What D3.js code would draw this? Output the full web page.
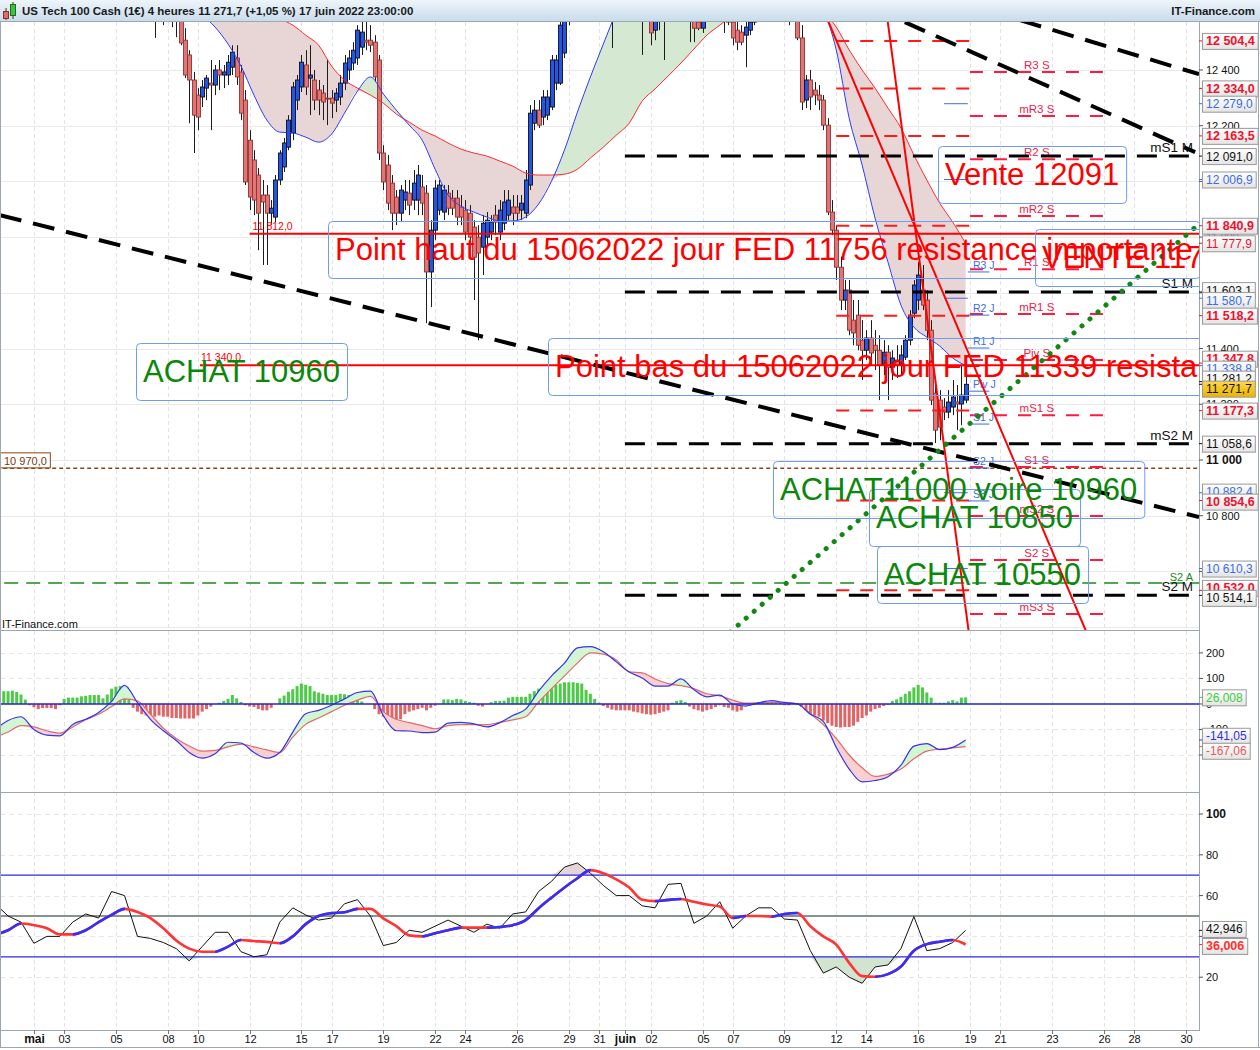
<!DOCTYPE html>
<html lang="fr">
<head>
<meta charset="utf-8">
<title>US Tech 100 Cash - 4 heures</title>
<script src="https://d3js.org/d3.v7.min.js"></script>
<style>
  body { margin: 0; background: #fff; }
  svg { display: block; font-family: "Liberation Sans", Arial, sans-serif; }
</style>
</head>
<body>
<script>
// ---- data: 4h candles, first bar "2022-05-06 11:00", one value per bar
var candleStart = "2022-05-06 11:00";
var opens = [12633,12651,12633,12608,12629,12615,12601,12579,12507,12454,12364,12310,12303,12335,12353,12346,12400,12382,12382,12410,
  12443,12393,12292,12148,12077,12023,11951,11951,11886,11872,12005,12052,12123,12174,12292,12339,12418,12371,12364,12328,
  12317,12299,12299,12292,12303,12353,12400,12425,12443,12482,12507,12507,12500,12436,12102,12059,11994,11944,11886,11933,
  11958,11933,11933,11980,11958,11675,11825,11897,11890,11958,11940,11940,11908,11897,11886,11836,11800,11764,11800,11818,
  11879,11818,11850,11879,11908,11908,11897,11886,11987,12209,12256,12231,12238,12267,12353,12353,12461,12579,12651,12705,
  12759,12795,12831,12848,12866,12831,12795,12759,12723,12759,12795,12813,12795,12759,12705,12687,12669,12543,12579,12651,
  12669,12705,12741,12759,12723,12687,12651,12572,12550,12633,12687,12723,12705,12669,12651,12572,12543,12536,12525,12543,
  12572,12633,12669,12705,12723,12741,12759,12723,12687,12669,12615,12515,12292,12364,12328,12310,12292,12202,11890,11825,
  11692,11574,11610,11502,11520,11430,11394,11438,11412,11394,11341,11387,11333,11359,11341,11369,11430,11527,11574,11610,
  11574,11466,11240,11215,11190,11172,11190,11208,11201,11215];
var highs = [12705,12687,12680,12669,12680,12669,12644,12597,12550,12471,12393,12335,12364,12382,12436,12418,12436,12418,12454,12489,
  12489,12418,12328,12184,12112,12048,12005,11987,11933,12023,12112,12156,12238,12357,12382,12454,12471,12489,12400,12364,
  12346,12436,12328,12335,12382,12454,12471,12500,12561,12579,12572,12561,12525,12454,12130,12095,12023,11969,11987,12005,
  12005,12041,12059,12023,11987,11861,12005,12005,11987,11987,11969,11969,11951,11933,11915,11861,11843,11879,11890,11879,
  11915,11933,11969,11969,11951,11951,11951,12041,12274,12292,12292,12328,12328,12454,12454,12579,12615,12669,12723,12777,
  12831,12866,12902,12902,12938,12902,12848,12813,12795,12831,12866,12866,12848,12813,12759,12741,12723,12687,12669,12705,
  12741,12777,12795,12813,12777,12741,12705,12615,12651,12705,12759,12777,12759,12723,12705,12597,12579,12561,12579,12597,
  12651,12705,12741,12759,12777,12795,12813,12777,12741,12723,12669,12561,12382,12400,12357,12346,12310,12227,11933,11843,
  11730,11646,11646,11574,11574,11502,11466,11502,11466,11448,11430,11412,11394,11412,11412,11448,11538,11646,11710,11700,
  11610,11502,11269,11251,11222,11251,11287,11269,11341,11341];
var lows = [12597,12515,12579,12561,12579,12554,12518,12489,12371,12209,12102,12184,12267,12292,12184,12310,12328,12335,12346,12382,
  12346,12220,11987,11897,11879,11753,11700,11700,11843,11854,11987,12034,12112,12148,12256,12321,12310,12238,12256,12238,
  12220,12202,12227,12249,12274,12328,12364,12400,12418,12454,12471,12464,12357,12077,11969,11897,11825,11843,11854,11897,
  11879,11897,11879,11879,11491,11549,11789,11879,11861,11879,11879,11843,11843,11789,11771,11574,11430,11664,11771,11789,
  11807,11789,11825,11861,11843,11861,11861,11868,11969,12184,12192,12202,12220,12256,12328,12346,12443,12561,12615,12669,
  12723,12759,12795,12813,12795,12759,12723,12479,12615,12687,12723,12741,12705,12651,12454,12597,12489,12507,12543,12436,
  12615,12669,12687,12687,12633,12500,12500,12543,12533,12597,12651,12669,12633,12533,12561,12489,12471,12489,12410,12525,
  12561,12615,12633,12669,12669,12687,12687,12651,12561,12597,12507,12256,12263,12256,12274,12256,12184,11879,11807,11646,
  11538,11538,11448,11412,11394,11287,11359,11341,11323,11215,11305,11215,11287,11294,11305,11359,11412,11509,11538,11538,
  11430,11197,11061,11071,11143,11150,11161,11107,11125,11204];
var closes = [12651,12633,12608,12629,12615,12601,12579,12497,12382,12364,12238,12231,12339,12371,12346,12400,12382,12393,12428,12464,
  12375,12245,11998,11944,11933,11886,11926,11886,11904,12005,12102,12138,12220,12339,12364,12428,12339,12382,12292,12292,
  12285,12296,12281,12317,12353,12425,12443,12471,12543,12536,12500,12489,12375,12102,11998,11922,11886,11886,11969,11962,
  11915,11994,12023,11922,11675,11825,11976,11987,11969,11904,11904,11872,11872,11818,11800,11728,11743,11850,11861,11854,
  11854,11897,11926,11933,11886,11886,11922,12005,12245,12256,12202,12303,12303,12436,12436,12561,12597,12651,12705,12759,
  12795,12831,12848,12866,12831,12795,12759,12723,12759,12795,12813,12795,12759,12705,12687,12669,12533,12633,12651,12669,
  12705,12741,12759,12723,12687,12651,12550,12550,12633,12687,12723,12705,12669,12651,12572,12515,12500,12500,12554,12572,
  12633,12669,12705,12723,12741,12759,12723,12687,12669,12651,12515,12285,12364,12303,12310,12292,12202,11890,11825,11692,
  11574,11610,11466,11456,11412,11394,11438,11384,11394,11341,11387,11333,11366,11341,11377,11430,11520,11628,11664,11556,
  11466,11215,11107,11118,11172,11208,11226,11201,11233,11271.7];

// ---- indicators sampled every 3 bars from "2022-04-28 15:00"
var indStart = "2022-04-28 15:00";
var indStep = 3;
var maFast = [13082,13100,13118,13100,13064,13028,12992,12956,12920,12902,12884,12831,12777,12723,12669,12633,12597,12554,12493,12414,
  12310,12220,12177,12174,12159,12141,12170,12245,12324,12375,12314,12256,12202,12148,12044,11951,11911,11890,11872,11858,
  11858,11872,11919,12001,12113,12249,12375,12493,12608,12705,12777,12831,12859,12874,12866,12848,12831,12813,12802,12795,
  12777,12759,12723,12669,12615,12472,12227,12059,11868,11710,11556,11477,11441,11409,11366,11338.8];
var maSlow = [13190,13190,13182,13172,13154,13136,13111,13082,13046,13010,12974,12931,12888,12848,12813,12777,12741,12705,12669,12640,
  12615,12597,12583,12561,12525,12489,12414,12364,12335,12310,12281,12242,12213,12184,12163,12138,12116,12102,12091,12073,
  12055,12030,12023,12023,12026,12044,12084,12123,12166,12209,12288,12332,12378,12425,12475,12525,12561,12597,12622,12640,
  12651,12651,12644,12629,12608,12554,12472,12400,12335,12263,12192,12095,12005,11922,11854,11777.9];
var macd = [-100,-65,-50,-100,-122,-125,-80,-60,-33,10,73,5,-60,-105,-143,-190,-212,-195,-150,-153,
  -190,-212,-190,-110,-38,-25,-5,20,45,50,-45,-105,-106,-112,-110,-75,-72,-78,-90,-73,
  -45,-20,50,110,160,220,225,205,165,125,102,70,70,98,56,28,35,0,-8,4,
  13,5,0,-40,-68,-170,-255,-305,-300,-285,-240,-165,-155,-179,-170,-141.05];
var signal = [-130,-110,-85,-90,-105,-114,-90,-62,-40,-10,20,12,-40,-95,-135,-165,-185,-182,-168,-157,
  -168,-180,-190,-130,-80,-55,-30,-5,15,30,-30,-60,-73,-85,-97,-85,-81,-81,-81,-72,
  -62,-50,8,60,110,160,200,195,172,126,122,98,80,72,60,40,32,15,3,4,
  6,6,0,-38,-81,-135,-200,-250,-284,-275,-255,-215,-185,-177,-172,-167.06];
var rsi = [56,50,47,36.6,40,40,47,51,49,62,60,40,39,37,34,28,35,42,42,32.5,
  30,31,47,54,50.5,48,49,56,58,50,35.5,37,43,42,45,48,45,42,46,44,
  51,52,62,67,74,76,71,65,60,60,55,54,65.5,66,46.4,50,57,44,50,54,
  54,48.5,48,33,22,25,20,17,25,26,34,49.7,33,34,37,42.946];
var rsiMa = [40.7,43,46.3,45.5,44,41,41,43,47,50.5,53.5,52,49,44,38,34,32.5,32.5,35,38.2,
  37.7,37.3,36.6,40,46,50,51.4,51.8,53.5,53.5,48.8,45,40.5,40,41.5,43,44.3,44.3,44.3,44.6,
  45.5,48,53.8,59,64,68.5,72.5,71,68,64,58,57.3,57.9,58.3,57,55.6,54.6,49,50,50,
  49.7,51,51.5,45,40,36,27,20.5,20.2,21.5,25.2,33,36.2,37.4,38.2,36.006];

// ---- MACD histogram, one value per bar from "2022-04-28 19:00"
var histStart = "2022-04-28 19:00";
var hist = [48,50,50,52,47,37,17,-5,-13,-20,-16,-16,-16,-20,-5,
  20,25,25,25,30,32,35,35,35,22,37,60,68,70,68,35,
  -15,-30,-40,-45,-50,-50,-45,-50,-50,-55,-55,-57,-57,-57,-57,-45,-30,-20,-10,
  0,5,12,20,35,22,8,-5,-10,-12,-20,-25,-25,-15,0,
  22,33,48,58,70,80,75,70,50,45,40,35,35,35,40,38,35,30,20,10,0,0,
  -20,-40,-50,-70,-70,-65,-60,-40,-30,-25,-20,-15,-25,-15,-7,0,
  18,18,15,20,18,12,8,5,-7,-10,0,
  7,12,12,13,25,28,28,28,28,40,50,60,65,65,70,75,80,85,85,85,82,80,55,40,20,5,
  -8,-15,-22,-25,-25,-25,-25,-30,-33,-37,-40,-42,-40,-35,-30,-25,
  5,12,15,8,-10,-20,-25,-30,-25,-20,-12,-5,-12,-15,-25,-30,-25,-10,-5,
  5,8,10,10,8,5,5,-5,-5,0,2,
  -10,-25,-40,-45,-50,-65,-75,-85,-90,-92,-90,-90,-85,-70,-55,-45,-30,-20,-15,-8,-3,
  12,18,28,40,50,65,75,65,45,25,5,5,5,10,15,10,25,26.008];

// ---- levels
var tickDays = ["2022-05-01","2022-05-03","2022-05-05","2022-05-08","2022-05-10","2022-05-12","2022-05-15","2022-05-17",
  "2022-05-19","2022-05-22","2022-05-24","2022-05-26","2022-05-29","2022-05-31","2022-06-01","2022-06-02","2022-06-05",
  "2022-06-07","2022-06-09","2022-06-12","2022-06-14","2022-06-16","2022-06-19","2022-06-21","2022-06-23","2022-06-26",
  "2022-06-28","2022-06-30"];
var monthNames = ["janv","févr","mars","avr","mai","juin","juil"];
var weekNowLevels = [12504.4, 12334.0, 12163.5, 11840.9, 11518.2, 11177.3, 10854.6, 10532.0];
var weekNextNames = ["R3 S","mR3 S","R2 S","mR2 S","R1 S","mR1 S","Piv S","mS1 S","S1 S","mS2 S","S2 S","mS3 S"];
var weekNextLevels = [12393, 12235, 12080, 11876, 11685, 11524, 11359, 11161, 10975, 10799, 10641, 10447];
var dayNames = ["R3 J","R2 J","R1 J","Piv J","S1 J","S2 J","S3 J"];
var dayLevels = [11675, 11520, 11402, 11247, 11129, 10971, 10853];
var dayNowLevels = [12279.0, 12006.9, 11580.7, 11338.8, 10882.4, 10610.3];
var monthNames2 = ["mS1 M","S1 M","mS2 M","S2 M"];
var monthLevels = [12091.0, 11603.1, 11058.6, 10514.1];
var yearLevel = 10558, yearName = "S2 A";
var supportLevel = 10970.0;
var fedHigh = 11812.0, fedLow = 11340.0;
var priceTicks = [10600, 10800, 11000, 11200, 11400, 11600, 11800, 12000, 12200, 12400];
// trend lines: [bar index, price, bar index, price]
var blackTrends = [[4.13, 11879, 282.1, 10795], [240.6, 12579, 282.1, 12385], [213.9, 12572, 281.2, 12105]];
var redTrends = [[208, 12800, 229, 10350], [190, 12800, 256, 10382]];
var greenTrend = [173.4, 10382, 282.1, 11847];

var axisBoxes = [
  {v: 12504.4, c: "#f0102c", b: 1}, {v: 12334.0, c: "#f0102c", b: 1}, {v: 12279.0, c: "#3a6ce8"},
  {v: 12163.5, c: "#f0102c", b: 1}, {v: 12091.0, c: "#111"}, {v: 12006.9, c: "#3a6ce8"},
  {v: 11840.9, c: "#f0102c", b: 1}, {v: 11777.9, c: "#f0102c"}, {v: 11603.1, c: "#111"},
  {v: 11580.7, c: "#3a6ce8"}, {v: 11518.2, c: "#f0102c", b: 1}, {v: 11347.8, c: "#f0102c", b: 1},
  {v: 11338.8, c: "#3a6ce8"}, {v: 11281.2, c: "#111"}, {v: 11271.7, c: "#111", gold: 1},
  {v: 11177.3, c: "#f0102c", b: 1}, {v: 11058.6, c: "#111"}, {v: 10882.4, c: "#3a6ce8"},
  {v: 10854.6, c: "#f0102c", b: 1}, {v: 10610.3, c: "#3a6ce8"}, {v: 10532.0, c: "#f0102c", b: 1},
  {v: 10514.1, c: "#111"}
];

var notes = [
  {t: "Vente 12091", c: "#f00", x: 938, y: 146},
  {t: "Point haut du 15062022 jour FED 11756 resistance importante", c: "#f00", x: 328, y: 221},
  {t: "VENTE 11756", c: "#f00", x: 1035, y: 229},
  {t: "ACHAT 10960", c: "#0b870b", x: 136, y: 343},
  {t: "Point bas du 15062022 jour FED 11339 resistance", c: "#f00", x: 548, y: 338},
  {t: "ACHAT11000 voire 10960", c: "#0b870b", x: 773, y: 461},
  {t: "ACHAT 10850", c: "#0b870b", x: 869, y: 489},
  {t: "ACHAT 10550", c: "#0b870b", x: 877, y: 546}
];

// ---- trading calendar of 4h bars (Sunday one bar, Mon-Fri six)
var bars = [];
var day = new Date(2022, 3, 28);
while (day < new Date(2022, 6, 3)) {
  var wd = day.getDay();
  var hs = wd === 6 ? [] : (wd === 0 ? [23] : [3, 7, 11, 15, 19, 23]);
  hs.forEach(function (h) { bars.push(new Date(day.getFullYear(), day.getMonth(), day.getDate(), h)); });
  day = new Date(day.getFullYear(), day.getMonth(), day.getDate() + 1);
}
function barIndex(s) {
  var p = s.split(/[- :]/);
  var t = new Date(+p[0], +p[1] - 1, +p[2], +(p[3] || 0)).getTime();
  for (var i = 0; i < bars.length; i++) if (bars[i].getTime() === t) return i;
  return -1;
}
function dayIndex(s) {
  var p = s.split("-");
  for (var i = 0; i < bars.length; i++) {
    var b = bars[i];
    if (b.getFullYear() === +p[0] && b.getMonth() === +p[1] - 1 && b.getDate() === +p[2]) return i;
  }
  return -1;
}
function fmt(v, dec) {
  var s = Math.abs(v).toFixed(dec).split(".");
  var n = s[0].replace(/\B(?=(\d{3})+(?!\d))/g, " ");
  return (v < 0 ? "-" : "") + n + (dec ? "," + s[1] : "");
}

var W = 1260, H = 1050, R = 1199;
var plotTop = 22, mainB = 630, macdB = 792, rsiB = 1030;
var x = d3.scaleLinear().domain([4.13, 282.1]).range([0, R]);
var yM = d3.scaleLinear().domain([10389.7, 12572.3]).range([mainB, plotTop]);
var yD = d3.scaleLinear().domain([-341, 282]).range([macdB - 1, mainB + 2]);
var yR = d3.scaleLinear().domain([-5.9, 110.3]).range([rsiB, macdB + 1]);

var svg = d3.select("body").append("svg").attr("width", W).attr("height", H);
var defs = svg.append("defs");
function clip(id, y0, y1) {
  defs.append("clipPath").attr("id", id).append("rect").attr("x", 0).attr("y", y0).attr("width", R).attr("height", y1 - y0);
}
clip("cMain", plotTop, mainB); clip("cMacd", mainB + 1, macdB); clip("cRsi", macdB + 1, rsiB);
var hg = defs.append("linearGradient").attr("id", "hdr").attr("x1", 0).attr("x2", 0).attr("y1", 0).attr("y2", 1);
hg.append("stop").attr("offset", 0).attr("stop-color", "#eef5fb");
hg.append("stop").attr("offset", 1).attr("stop-color", "#c9dceb");
var bg = defs.append("linearGradient").attr("id", "box").attr("x1", 0).attr("x2", 0).attr("y1", 0).attr("y2", 1);
bg.append("stop").attr("offset", 0).attr("stop-color", "#ffffff");
bg.append("stop").attr("offset", 1).attr("stop-color", "#e4e4e4");
var gg = defs.append("linearGradient").attr("id", "gold").attr("x1", 0).attr("x2", 0).attr("y1", 0).attr("y2", 1);
gg.append("stop").attr("offset", 0).attr("stop-color", "#ffd84a");
gg.append("stop").attr("offset", 1).attr("stop-color", "#e8b400");

svg.append("rect").attr("width", W).attr("height", H).attr("fill", "#fff");

// header
svg.append("rect").attr("width", W).attr("height", 21).attr("fill", "url(#hdr)");
svg.append("line").attr("x1", 0).attr("x2", W).attr("y1", 21.5).attr("y2", 21.5).attr("stroke", "#9aa8b4");
svg.append("line").attr("x1", 6).attr("x2", 6).attr("y1", 8).attr("y2", 20).attr("stroke", "#333");
svg.append("rect").attr("x", 3.5).attr("y", 11.5).attr("width", 5).attr("height", 7).attr("fill", "#e36a6a").attr("stroke", "#8a2e2e");
svg.append("line").attr("x1", 13).attr("x2", 13).attr("y1", 2).attr("y2", 19).attr("stroke", "#333");
svg.append("rect").attr("x", 10.5).attr("y", 4.5).attr("width", 5).attr("height", 11).attr("fill", "#3cc43c").attr("stroke", "#1d6d1d");
svg.append("text").attr("x", 22).attr("y", 15).attr("font-size", 11.5).attr("font-weight", "bold").attr("fill", "#1a1a1a")
  .text("US Tech 100 Cash (1€) 4 heures 11 271,7 (+1,05 %) 17 juin 2022 23:00:00");
svg.append("text").attr("x", 1255).attr("y", 15).attr("text-anchor", "end").attr("font-size", 11.5).attr("font-weight", "bold")
  .attr("fill", "#1a1a1a").text("IT-Finance.com");

// grid
var grid = svg.append("g");
tickDays.forEach(function (s) {
  var xi = Math.round(x(dayIndex(s))) + 0.5;
  grid.append("line").attr("x1", xi).attr("x2", xi).attr("y1", plotTop).attr("y2", rsiB)
    .attr("stroke", "#e3e3e3").attr("stroke-dasharray", "4,3");
});
d3.range(10400, 12600, 200).forEach(function (v) {
  grid.append("line").attr("x1", 0).attr("x2", R).attr("y1", Math.round(yM(v)) + 0.5).attr("y2", Math.round(yM(v)) + 0.5)
    .attr("stroke", "#e9e9e9");
});
[200, 100, -100, -200].forEach(function (v) {
  grid.append("line").attr("x1", 0).attr("x2", R).attr("y1", Math.round(yD(v)) + 0.5).attr("y2", Math.round(yD(v)) + 0.5)
    .attr("stroke", "#e6e6e6").attr("stroke-dasharray", "5,4");
});
[100, 80, 60, 40, 20].forEach(function (v) {
  grid.append("line").attr("x1", 0).attr("x2", R).attr("y1", Math.round(yR(v)) + 0.5).attr("y2", Math.round(yR(v)) + 0.5)
    .attr("stroke", "#e6e6e6").attr("stroke-dasharray", "5,4");
});

// ---- main panel
var c0 = barIndex(candleStart), i0 = barIndex(indStart), h0 = barIndex(histStart);
var main = svg.append("g").attr("clip-path", "url(#cMain)");
var ma = maFast.map(function (v, j) { return {i: i0 + indStep * j, f: v, s: maSlow[j]}; });
main.append("path").datum(ma).attr("fill", "#d4e8d2")
  .attr("d", d3.area().curve(d3.curveMonotoneX).x(function (d) { return x(d.i); })
    .y0(function (d) { return yM(d.s); }).y1(function (d) { return yM(Math.max(d.f, d.s)); }));
main.append("path").datum(ma).attr("fill", "#e8d6d6")
  .attr("d", d3.area().curve(d3.curveMonotoneX).x(function (d) { return x(d.i); })
    .y0(function (d) { return yM(d.s); }).y1(function (d) { return yM(Math.min(d.f, d.s)); }));

var candles = closes.map(function (c, k) { return {i: c0 + k, o: opens[k], h: highs[k], l: lows[k], c: c}; });
var cg = main.append("g");
cg.selectAll("line").data(candles).enter().append("line")
  .attr("x1", function (d) { return Math.round(x(d.i)) + 0.5; }).attr("x2", function (d) { return Math.round(x(d.i)) + 0.5; })
  .attr("y1", function (d) { return yM(d.h); }).attr("y2", function (d) { return yM(d.l); })
  .attr("stroke", "#1c1c1c").attr("stroke-width", 1);
cg.selectAll("rect").data(candles).enter().append("rect")
  .attr("x", function (d) { return Math.round(x(d.i)) - 1.5; }).attr("width", 4)
  .attr("y", function (d) { return yM(Math.max(d.o, d.c)); })
  .attr("height", function (d) { return Math.max(1, Math.abs(yM(d.o) - yM(d.c))); })
  .attr("fill", function (d) { return d.c >= d.o ? "#2356e6" : "#e27474"; })
  .attr("stroke", function (d) { return d.c >= d.o ? "#101010" : "#8c3434"; }).attr("stroke-width", 0.9);

var lineF = d3.line().curve(d3.curveMonotoneX).x(function (d) { return x(d.i); });
main.append("path").datum(ma).attr("fill", "none").attr("stroke", "#ff2a2a").attr("stroke-width", 1)
  .attr("d", lineF.y(function (d) { return yM(d.s); }));
main.append("path").datum(ma).attr("fill", "none").attr("stroke", "#2a3cff").attr("stroke-width", 1)
  .attr("d", lineF.y(function (d) { return yM(d.f); }));

function hline(g, v, i1, i2, color, w, dash) {
  var yy = yM(v);
  g.append("line").attr("x1", x(i1)).attr("x2", x(i2)).attr("y1", yy).attr("y2", yy)
    .attr("stroke", color).attr("stroke-width", w).attr("stroke-dasharray", dash || null);
}
var lv = main.append("g");
hline(lv, supportLevel, 0, 290, "#8b4513", 1.5, "4,3");
hline(lv, yearLevel, 0, 290, "#1a8a1a", 1.5, "14,8");
var wk0 = dayIndex("2022-06-12"), wk1 = dayIndex("2022-06-19"), wk2 = dayIndex("2022-06-26");
weekNowLevels.forEach(function (v) { hline(lv, v, wk0, wk1, "#ff1a1a", 2, "13,11"); });
weekNextLevels.forEach(function (v, k) {
  hline(lv, v, wk1, wk2, "#ff1a40", 2, "13,11");
  lv.append("text").attr("x", x((wk1 + wk2) / 2)).attr("y", yM(v) - 3).attr("text-anchor", "middle")
    .attr("font-size", 11.5).attr("fill", "#ee1a48").text(weekNextNames[k]);
});
var dNow = dayIndex("2022-06-17");
dayNowLevels.forEach(function (v) { hline(lv, v, dNow, dNow + 5.5, "#3a6ce8", 1); });
dayLevels.forEach(function (v, k) {
  hline(lv, v, wk1 - 0.5, wk1 + 4.5, "#3a6ce8", 1);
  lv.append("text").attr("x", x(wk1) + 3).attr("y", yM(v) - 3).attr("font-size", 10.5).attr("fill", "#3a6ce8").text(dayNames[k]);
});
var mo0 = dayIndex("2022-06-01");
monthLevels.forEach(function (v, k) {
  hline(lv, v, mo0, 290, "#000", 3, "20,12");
  lv.append("text").attr("x", R - 6).attr("y", yM(v) - 4).attr("text-anchor", "end").attr("font-size", 13.5)
    .attr("fill", "#111").text(monthNames2[k]);
});
lv.append("text").attr("x", R - 6).attr("y", yM(yearLevel) - 2).attr("text-anchor", "end").attr("font-size", 11)
  .attr("fill", "#1a8a1a").text(yearName);
hline(lv, fedHigh, 62, 290, "#ff0000", 2);
hline(lv, fedLow, 50.5, 290, "#ff0000", 2);
lv.append("text").attr("x", x(62) + 3).attr("y", yM(fedHigh) - 4).attr("font-size", 10.5).attr("fill", "#f00").text(fmt(fedHigh, 1));
lv.append("text").attr("x", x(50.5) + 1).attr("y", yM(fedLow) - 4).attr("font-size", 10.5).attr("fill", "#f00").text(fmt(fedLow, 1));

function seg(g, t, color, w, dash, cap) {
  g.append("line").attr("x1", x(t[0])).attr("y1", yM(t[1])).attr("x2", x(t[2])).attr("y2", yM(t[3]))
    .attr("stroke", color).attr("stroke-width", w).attr("stroke-dasharray", dash || null).attr("stroke-linecap", cap || "butt");
}
blackTrends.forEach(function (t) { seg(lv, t, "#000", 4, "22,12"); });
redTrends.forEach(function (t) { seg(lv, t, "#ff0000", 2); });
seg(lv, greenTrend, "#118811", 5, "0.1,10.5", "round");

var ng = main.append("g");
notes.forEach(function (n) {
  var t = ng.append("text").attr("x", n.x + 7).attr("y", n.y + 39).attr("font-size", 31).attr("fill", n.c).text(n.t);
  var w = t.node().getComputedTextLength();
  ng.insert("rect", "text").attr("x", n.x + 0.5).attr("y", n.y + 0.5).attr("width", w + 14).attr("height", 57).attr("rx", 4)
    .attr("fill", "none").attr("stroke", "#6f9cf0").attr("stroke-width", 1);
});
svg.append("text").attr("x", 2).attr("y", 628).attr("font-size", 11).attr("fill", "#111").text("IT-Finance.com");

// left support box
var sb = svg.append("g");
var st = sb.append("text").attr("x", 4).attr("y", yM(supportLevel) - 3).attr("font-size", 11).attr("fill", "#7a3a10").text(fmt(supportLevel, 1));
sb.insert("rect", "text").attr("x", 0.5).attr("y", yM(supportLevel) - 15.5).attr("width", st.node().getComputedTextLength() + 7)
  .attr("height", 15).attr("fill", "#fff").attr("stroke", "#8b4513");

// ---- MACD panel
var mg = svg.append("g").attr("clip-path", "url(#cMacd)");
var md = macd.map(function (v, j) { return {i: i0 + indStep * j, m: v, s: signal[j]}; });
mg.selectAll("rect").data(hist.map(function (v, k) { return {i: h0 + k, v: v}; }).filter(function (d) { return d.v !== 0; }))
  .enter().append("rect")
  .attr("x", function (d) { return x(d.i) - 1.5; }).attr("width", 3)
  .attr("y", function (d) { return Math.min(yD(0), yD(d.v)); })
  .attr("height", function (d) { return Math.abs(yD(d.v) - yD(0)); })
  .attr("fill", function (d) { return d.v > 0 ? "#4ccc46" : "#e26464"; });
mg.append("path").datum(md).attr("fill", "#d2f5d2")
  .attr("d", d3.area().curve(d3.curveMonotoneX).x(function (d) { return x(d.i); })
    .y0(function (d) { return yD(d.s); }).y1(function (d) { return yD(Math.max(d.m, d.s)); }));
mg.append("path").datum(md).attr("fill", "#f8d0d0")
  .attr("d", d3.area().curve(d3.curveMonotoneX).x(function (d) { return x(d.i); })
    .y0(function (d) { return yD(d.s); }).y1(function (d) { return yD(Math.min(d.m, d.s)); }));
mg.append("path").datum(md).attr("fill", "none").attr("stroke", "#e06a6a").attr("stroke-width", 1.2)
  .attr("d", d3.line().curve(d3.curveMonotoneX).x(function (d) { return x(d.i); }).y(function (d) { return yD(d.s); }));
mg.append("path").datum(md).attr("fill", "none").attr("stroke", "#3434f0").attr("stroke-width", 1.2)
  .attr("d", d3.line().curve(d3.curveMonotoneX).x(function (d) { return x(d.i); }).y(function (d) { return yD(d.m); }));
svg.append("line").attr("x1", 0).attr("x2", R).attr("y1", yD(0)).attr("y2", yD(0)).attr("stroke", "#2424c8").attr("stroke-width", 1.5);

// ---- RSI panel
var rg = svg.append("g").attr("clip-path", "url(#cRsi)");
var rd = rsi.map(function (v, j) { return {i: i0 + indStep * j, r: v, m: rsiMa[j]}; });
rg.append("path").datum(rd).attr("fill", "#d0e4cf")
  .attr("d", d3.area().x(function (d) { return x(d.i); }).y0(yR(30)).y1(function (d) { return yR(Math.min(d.r, 30)); }));
rg.append("path").datum(rd).attr("fill", "#e4d6d6")
  .attr("d", d3.area().x(function (d) { return x(d.i); }).y0(yR(70)).y1(function (d) { return yR(Math.max(d.r, 70)); }));
[[70, "#2a2ae0"], [50, "#0c2a1c"], [30, "#2a2ae0"]].forEach(function (l) {
  rg.append("line").attr("x1", 0).attr("x2", R).attr("y1", yR(l[0])).attr("y2", yR(l[0])).attr("stroke", l[1]).attr("stroke-width", 1.2);
});
rg.append("path").datum(rd).attr("fill", "none").attr("stroke", "#111").attr("stroke-width", 1)
  .attr("d", d3.line().x(function (d) { return x(d.i); }).y(function (d) { return yR(d.r); }));
var up = defs.append("clipPath").attr("id", "rsiUp");
rd.forEach(function (d, j) {
  if (j > 0 && d.m > rd[j - 1].m) {
    up.append("rect").attr("x", x(rd[j - 1].i)).attr("width", x(d.i) - x(rd[j - 1].i) + 0.3).attr("y", macdB).attr("height", rsiB - macdB);
  }
});
var maLine = d3.line().curve(d3.curveMonotoneX).x(function (d) { return x(d.i); }).y(function (d) { return yR(d.m); });
rg.append("path").datum(rd).attr("fill", "none").attr("stroke", "#ff3434").attr("stroke-width", 2.6).attr("d", maLine);
rg.append("g").attr("clip-path", "url(#rsiUp)").append("path").datum(rd).attr("fill", "none")
  .attr("stroke", "#3030ff").attr("stroke-width", 2.6).attr("d", maLine);

// ---- frame
var fr = svg.append("g").attr("stroke", "#9ba6ae").attr("fill", "none");
[mainB + 0.5, macdB + 0.5, rsiB + 0.5].forEach(function (yy) { fr.append("line").attr("x1", 0).attr("x2", R).attr("y1", yy).attr("y2", yy); });
fr.append("line").attr("x1", R + 0.5).attr("x2", R + 0.5).attr("y1", 21).attr("y2", rsiB + 1);
fr.append("line").attr("x1", 0.5).attr("x2", 0.5).attr("y1", 21).attr("y2", H - 2);
fr.append("line").attr("x1", 0).attr("x2", W).attr("y1", H - 2.5).attr("y2", H - 2.5);
fr.append("line").attr("x1", W - 1.5).attr("x2", W - 1.5).attr("y1", 21).attr("y2", H - 2);

// ---- right axes
var ax = svg.append("g").attr("font-size", 11).attr("fill", "#111");
function ticks(vals, y, boldVal) {
  vals.forEach(function (v) {
    ax.append("line").attr("x1", R).attr("x2", R + 4).attr("y1", y(v)).attr("y2", y(v)).attr("stroke", "#555");
    ax.append("text").attr("x", R + 7).attr("y", y(v) + 4).attr("font-weight", v === boldVal ? "bold" : null)
      .attr("font-size", v === boldVal ? 12 : 11).text(fmt(v, 0));
  });
}
ticks(priceTicks, yM, 11000);
ticks([200, 100, 0, -100, -200], yD, null);
ticks([100, 80, 60, 40, 20], yR, 100);

function boxes(list, y, gap) {
  var items = list.map(function (d) { return {d: d, cy: y(d.v)}; });
  var s = items.slice().sort(function (a, b) { return a.cy - b.cy; });
  for (var p = 0; p < 30; p++) {
    for (var k = 1; k < s.length; k++) {
      var ov = gap - (s[k].cy - s[k - 1].cy);
      if (ov > 0) { s[k - 1].cy -= ov / 2; s[k].cy += ov / 2; }
    }
  }
  items.forEach(function (it) {
    var d = it.d, g = ax.append("g");
    g.append("line").attr("x1", R).attr("x2", R + 4).attr("y1", y(d.v)).attr("y2", y(d.v)).attr("stroke", d.c);
    var t = g.append("text").attr("x", R + 7).attr("y", it.cy + 4.5).attr("fill", d.c)
      .attr("font-size", d.b ? 12.5 : 12).attr("font-weight", d.b ? "bold" : null).text(fmt(d.v, d.dec == null ? 1 : d.dec));
    var w = t.node().getComputedTextLength();
    g.insert("rect", "text").attr("x", R + 3.5).attr("y", it.cy - 7.5).attr("width", w + 7).attr("height", 16)
      .attr("fill", d.gold ? "url(#gold)" : "url(#box)").attr("stroke", "#9a9a9a");
  });
}
boxes(axisBoxes, yM, 10);
boxes([{v: hist[hist.length - 1], c: "#3ccc3c", dec: 3}, {v: macd[macd.length - 1], c: "#3030f0", dec: 2},
  {v: signal[signal.length - 1], c: "#e05a5a", dec: 2}], yD, 15);
boxes([{v: rsi[rsi.length - 1], c: "#111", dec: 3}, {v: rsiMa[rsiMa.length - 1], c: "#ff3030", b: 1, dec: 3}], yR, 17);

// ---- date axis
var xa = svg.append("g").attr("font-size", 11).attr("fill", "#111").attr("text-anchor", "middle");
tickDays.forEach(function (s) {
  var i = dayIndex(s), d = bars[i], xi = Math.round(x(i)) + 0.5;
  xa.append("line").attr("x1", xi).attr("x2", xi).attr("y1", rsiB).attr("y2", rsiB + 4).attr("stroke", "#777");
  var first = d.getDate() === 1;
  xa.append("text").attr("x", xi).attr("y", 1043).attr("font-weight", first ? "bold" : null)
    .attr("font-size", first ? 12 : 11).text(first ? monthNames[d.getMonth()] : d3.timeFormat("%d")(d));
});
</script>
</body>
</html>
